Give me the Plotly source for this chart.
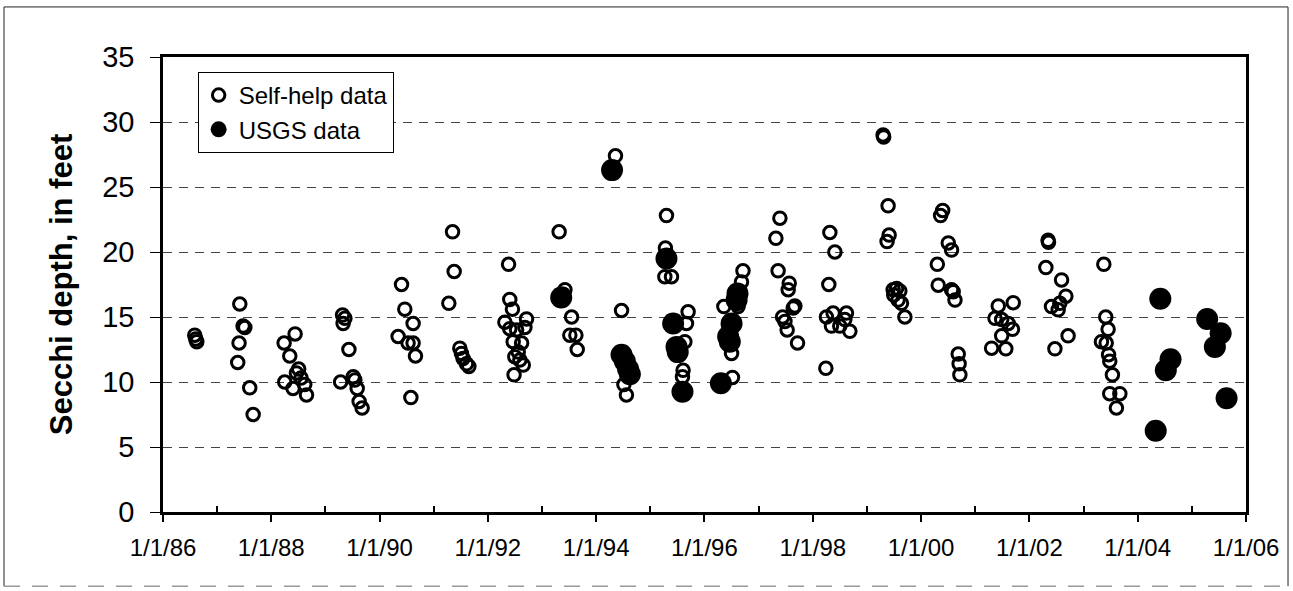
import plotly.graph_objects as go

# ---- data ----
self_dates = [
    "1986-08-03", "1986-08-10", "1986-08-17",
    "1987-06-03", "1987-06-25", "1987-07-07", "1987-05-29", "1987-05-20", "1987-08-09", "1987-09-01",
    "1988-03-28", "1988-06-10", "1988-05-05", "1988-04-01", "1988-07-04", "1988-06-19", "1988-05-27",
    "1988-08-14", "1988-08-26", "1988-07-20",
    "1989-04-26", "1989-05-12", "1989-04-30", "1989-06-08", "1989-04-13", "1989-07-07", "1989-07-18",
    "1989-08-03", "1989-08-16", "1989-09-05",
    "1990-05-29", "1990-06-20", "1990-08-15", "1990-05-06", "1990-07-12", "1990-08-15", "1990-08-31",
    "1990-07-31",
    "1991-05-08", "1991-05-19", "1991-04-13", "1991-06-26", "1991-07-07", "1991-07-18", "1991-08-10",
    "1991-08-26",
    "1992-05-20", "1992-05-28", "1992-06-15", "1992-04-25", "1992-09-18", "1992-05-28", "1992-07-13",
    "1992-09-07", "1992-06-20", "1992-08-16", "1992-07-24", "1992-07-01", "1992-08-04", "1992-08-27",
    "1992-06-26",
    "1993-04-26", "1993-06-04", "1993-05-23", "1993-05-08", "1993-07-19", "1993-07-07", "1993-08-17",
    "1993-08-26",
    "1994-05-11", "1994-06-21", "1994-07-24", "1994-07-07",
    "1995-04-20", "1995-04-13", "1995-04-09", "1995-05-24", "1995-09-13", "1995-09-02", "1995-08-22",
    "1995-08-10", "1995-08-06",
    "1996-09-17", "1996-09-07", "1996-08-15", "1996-05-11", "1996-07-02", "1996-07-08",
    "1997-05-24", "1997-04-27", "1997-05-12", "1997-07-26", "1997-07-19", "1997-09-02", "1997-08-22",
    "1997-06-11", "1997-06-27", "1997-07-12", "1997-09-20",
    "1998-04-26", "1998-05-30", "1998-04-19", "1998-04-03", "1998-05-18", "1998-05-07", "1998-07-02",
    "1998-08-16", "1998-08-05", "1998-09-08", "1998-03-30",
    "1999-04-20", "1999-04-24", "1999-05-24", "1999-05-31", "1999-05-17", "1999-07-20", "1999-06-27",
    "1999-08-11", "1999-07-30", "1999-08-22", "1999-09-14", "1999-07-01",
    "2000-05-26", "2000-05-12", "2000-07-03", "2000-07-25", "2000-04-20", "2000-04-26", "2000-07-25",
    "2000-08-05", "2000-08-17", "2000-09-08", "2000-09-14", "2000-09-19",
    "2001-06-05", "2001-09-14", "2001-05-14", "2001-06-28", "2001-08-11", "2001-09-09", "2001-06-28",
    "2001-04-21", "2001-07-26",
    "2002-05-07", "2002-05-10", "2002-04-22", "2002-08-06", "2002-09-04", "2002-07-25", "2002-05-30",
    "2002-07-14", "2002-09-19", "2002-06-22",
    "2003-05-18", "2003-05-31", "2003-06-16", "2003-05-02", "2003-06-03", "2003-06-19", "2003-06-27",
    "2003-07-15", "2003-06-27", "2003-09-03", "2003-08-11",
]
self_depth = [
    13.6, 13.3, 13.1,
    16.0, 14.3, 14.2, 13.0, 11.5, 9.55, 7.5,
    13.0, 13.7, 12.0, 10.0, 11.0, 10.7, 9.5, 9.8, 9.0, 10.3,
    15.15, 14.9, 14.5, 12.5, 10.0, 10.4, 10.15, 9.5, 8.5, 8.0,
    17.5, 15.6, 14.5, 13.5, 13.0, 13.0, 12.0, 8.8,
    21.55, 18.5, 16.05, 12.6, 12.2, 11.8, 11.4, 11.2,
    19.05, 16.35, 15.6, 14.6, 14.85, 14.1, 14.0, 14.2, 13.1, 13.0, 12.3, 11.95, 11.7, 11.3, 10.55,
    21.55, 17.1, 16.75, 16.55, 15.0, 13.6, 13.6, 12.5,
    27.4, 15.5, 9.0, 9.8,
    22.8, 20.3, 18.1, 18.1, 15.4, 14.5, 13.1, 10.9, 10.4,
    18.55, 17.7, 15.8, 15.8, 12.2, 10.35,
    22.6, 21.05, 18.55, 17.6, 17.1, 15.85, 15.7, 15.0, 14.65, 14.0, 13.0,
    21.5, 20.0, 17.5, 15.0, 15.3, 14.3, 14.3, 15.3, 14.8, 13.9, 11.05,
    29.0, 28.85, 23.55, 21.3, 20.8, 17.2, 17.1, 17.0, 16.3, 16.05, 15.0, 16.7,
    23.2, 22.8, 20.7, 20.15, 19.05, 17.45, 17.1, 16.95, 16.3, 12.15, 11.4, 10.55,
    15.85, 16.1, 14.9, 14.8, 14.5, 14.05, 13.55, 12.6, 12.55,
    20.9, 20.75, 18.8, 17.85, 16.6, 16.05, 15.8, 15.55, 13.55, 12.55,
    19.05, 15.0, 14.05, 13.1, 13.0, 12.1, 11.6, 10.55, 9.1, 9.1, 8.0,
]

usgs_dates = [
    "1993-05-10",
    "1994-04-18", "1994-06-21", "1994-07-13", "1994-08-04", "1994-08-16",
    "1995-04-20", "1995-06-04", "1995-06-27", "1995-07-05", "1995-08-06",
    "1996-08-11", "1996-08-05", "1996-07-02", "1996-06-09", "1996-06-20", "1996-04-21",
    "2004-06-02", "2004-08-10", "2004-07-09", "2004-05-02",
    "2005-04-14", "2005-07-14", "2005-06-05", "2005-08-23",
]
usgs_depth = [
    16.5,
    26.3, 12.1, 11.6, 11.0, 10.6,
    19.5, 14.5, 12.7, 12.3, 9.25,
    16.8, 16.3, 14.5, 13.5, 13.1, 9.9,
    16.4, 11.75, 10.9, 6.25,
    14.85, 13.75, 12.7, 8.75,
]

x_tickvals = ["1986-01-01", "1988-01-01", "1990-01-01", "1992-01-01", "1994-01-01", "1996-01-01",
              "1998-01-01", "2000-01-01", "2002-01-01", "2004-01-01", "2006-01-01"]
x_ticktext = ["1/1/86", "1/1/88", "1/1/90", "1/1/92", "1/1/94", "1/1/96",
              "1/1/98", "1/1/00", "1/1/02", "1/1/04", "1/1/06"]
x_minorvals = ["1987-01-01", "1989-01-01", "1991-01-01", "1993-01-01", "1995-01-01",
               "1997-01-01", "1999-01-01", "2001-01-01", "2003-01-01", "2005-01-01"]
y_tickvals = [0, 5, 10, 15, 20, 25, 30, 35]

FONT = "Liberation Sans, Arial, sans-serif"

fig = go.Figure()
fig.add_trace(go.Scatter(
    x=usgs_dates, y=usgs_depth, mode="markers", name="USGS data", legendrank=2,
    marker=dict(symbol="circle", size=22, color="black", line=dict(color="black", width=0)),
))
fig.add_trace(go.Scatter(
    x=self_dates, y=self_depth, mode="markers", name="Self-help data", legendrank=1,
    marker=dict(symbol="circle-open", size=12.5, color="black", line=dict(color="black", width=3)),
))

fig.update_layout(
    width=1293, height=591,
    margin=dict(l=163, r=47, t=57, b=79),
    paper_bgcolor="white", plot_bgcolor="white",
    font=dict(family=FONT, color="black"),
    showlegend=True,
    legend=dict(
        x=0.032, y=0.967, xanchor="left", yanchor="top",
        bgcolor="white", bordercolor="black", borderwidth=1,
        font=dict(family=FONT, size=24, color="black"),
        itemsizing="trace", tracegroupgap=0, itemwidth=30,
    ),
    xaxis=dict(
        type="date", range=["1986-01-01", "2006-01-01"],
        tickmode="array", tickvals=x_tickvals, ticktext=x_ticktext,
        tickfont=dict(family=FONT, size=24, color="black"),
        ticks="outside", ticklen=7, tickwidth=1.5, tickcolor="black",
        ticklabelstandoff=5,
        minor=dict(tickmode="array", tickvals=x_minorvals, ticks="inside", ticklen=6,
                   tickwidth=1.5, tickcolor="black", showgrid=False),
        showline=True, linecolor="black", linewidth=2.5, mirror=True,
        showgrid=False, zeroline=False,
    ),
    yaxis=dict(
        range=[0, 35], tickmode="array", tickvals=y_tickvals,
        tickfont=dict(family=FONT, size=29, color="black"),
        ticks="outside", ticklen=10, tickwidth=1, tickcolor="black",
        ticklabelstandoff=10,
        showline=True, linecolor="black", linewidth=2.5, mirror=True,
        showgrid=True, gridcolor="#444444", gridwidth=1, griddash="9px,7px",
        zeroline=False,
        title=dict(text="Secchi depth, in feet",
                   font=dict(family=FONT, size=31, color="black", weight="bold"),
                   standoff=21),
    ),
)

# outer frame of the original figure
fig.add_shape(type="line", xref="paper", yref="paper", x0=-0.1468, x1=-0.1468, y0=-0.163, y1=1.110,
              line=dict(color="#222222", width=1))
fig.add_shape(type="line", xref="paper", yref="paper", x0=-0.1468, x1=1.0388, y0=1.110, y1=1.110,
              line=dict(color="#222222", width=1))
fig.add_shape(type="line", xref="paper", yref="paper", x0=1.0388, x1=1.0388, y0=-0.163, y1=1.110,
              line=dict(color="#222222", width=1))
fig.add_shape(type="line", xref="paper", yref="paper", x0=-0.1468, x1=1.0388, y0=-0.163, y1=-0.163,
              line=dict(color="#999999", width=1.5, dash="16px,12px"))

fig.write_html("out.html", config={"displayModeBar": False},
               post_script="document.body.style.margin='0px';")
